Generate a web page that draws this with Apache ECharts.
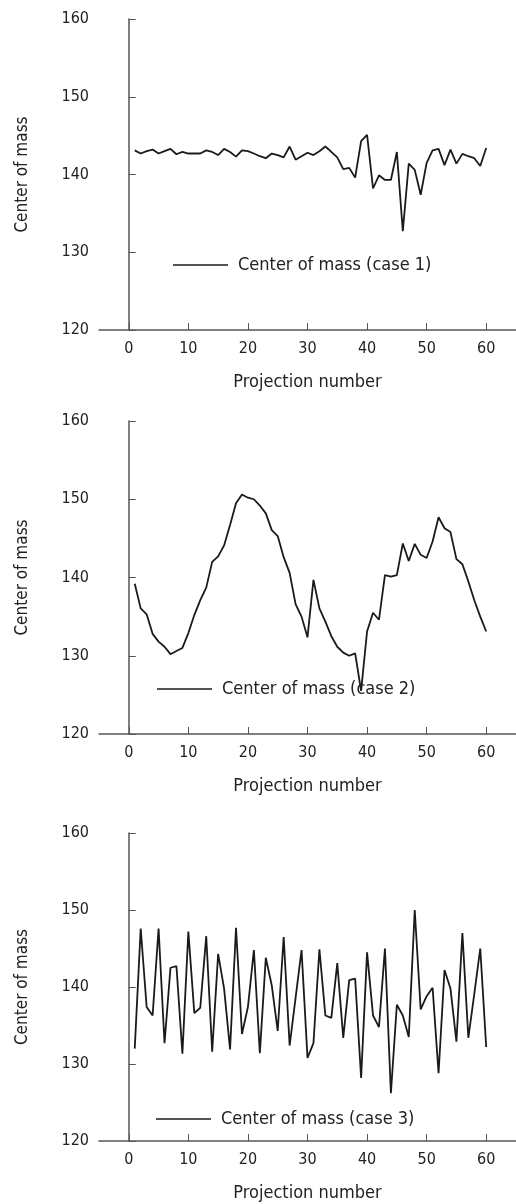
<!DOCTYPE html>
<html>
<head>
<meta charset="utf-8">
<script src="https://cdn.jsdelivr.net/npm/echarts@6/dist/echarts.min.js"></script>
<style>
  html, body { margin: 0; padding: 0; background: #fff; }
  #chart { width: 516px; height: 1204px; }
</style>
</head>
<body>
<div id="chart"></div>
<script>
// projection numbers (x)
const projection = [
  1, 2, 3, 4, 5, 6, 7, 8, 9, 10, 11, 12, 13, 14, 15, 16, 17, 18, 19, 20,
  21, 22, 23, 24, 25, 26, 27, 28, 29, 30, 31, 32, 33, 34, 35, 36, 37, 38, 39, 40,
  41, 42, 43, 44, 45, 46, 47, 48, 49, 50, 51, 52, 53, 54, 55, 56, 57, 58, 59, 60
];

// center of mass
const case1 = [
  143.1, 142.7, 143.0, 143.2, 142.7, 143.0, 143.3, 142.6, 142.9, 142.7,
  142.7, 142.7, 143.1, 142.9, 142.5, 143.3, 142.9, 142.3, 143.1, 143.0,
  142.7, 142.35, 142.1, 142.7, 142.5, 142.2, 143.6, 141.9, 142.35, 142.8,
  142.5, 143.0, 143.6, 142.9, 142.2, 140.7, 140.85, 139.6, 144.3, 145.1,
  138.2, 139.9, 139.3, 139.3, 142.9, 132.7, 141.4, 140.6, 137.4, 141.5,
  143.1, 143.3, 141.2, 143.2, 141.4, 142.65, 142.35, 142.1, 141.1, 143.4
];

const case2 = [
  139.2, 136.05, 135.3, 132.8, 131.8, 131.15, 130.2, 130.6, 131.0, 132.9,
  135.2, 137.1, 138.7, 142.0, 142.7, 144.1, 146.7, 149.5, 150.6, 150.2,
  150.0, 149.2, 148.2, 146.05, 145.3, 142.6, 140.6, 136.6, 135.0, 132.35,
  139.7, 136.05, 134.35, 132.5, 131.15, 130.4, 130.0, 130.3, 125.5, 133.1,
  135.5, 134.6, 140.3, 140.1, 140.3, 144.35, 142.1, 144.3, 142.9, 142.5,
  144.6, 147.7, 146.3, 145.8, 142.35, 141.7, 139.5, 137.1, 135.0, 133.1
];

const case3 = [
  132.0, 147.6, 137.4, 136.3, 147.6, 132.7, 142.5, 142.7, 131.35, 147.2,
  136.6, 137.3, 146.6, 131.6, 144.3, 139.8, 131.9, 147.7, 133.9, 137.4,
  144.8, 131.4, 143.8, 140.2, 134.3, 146.5, 132.4, 138.6, 144.8, 130.8,
  132.7, 144.9, 136.3, 136.0, 143.1, 133.4, 140.9, 141.1, 128.2, 144.5,
  136.3, 134.8, 145.0, 126.2, 137.7, 136.3, 133.5, 150.0, 137.1, 138.8,
  139.9, 128.8, 142.2, 139.8, 132.9, 147.0, 133.4, 139.1, 145.0, 132.2
];

const seriesNames = ['Center of mass (case 1)', 'Center of mass (case 2)', 'Center of mass (case 3)'];
const xTicks = [0, 10, 20, 30, 40, 50, 60];
const yTicks = [120, 130, 140, 150, 160];

const FONT = "'Liberation Sans Narrow', 'DejaVu Sans Condensed', sans-serif";
const TEXT = '#222';
const AXIS = '#555';

const chart = echarts.init(document.getElementById('chart'), null, { renderer: 'canvas' });

// one panel per case, stacked
const grids = [
  { left: 99, width: 417, top: 19, height: 311 },
  { left: 99, width: 417, top: 421, height: 313 },
  { left: 99, width: 417, top: 833, height: 308 }
];
const legendPos = [
  { left: 173, top: 256 },
  { left: 157, top: 680 },
  { left: 156, top: 1110 }
];
const allData = [case1, case2, case3];

const xAxes = grids.map((g, i) => ({
  type: 'value',
  gridIndex: i,
  min: -5,
  max: 65,
  name: 'Projection number',
  nameLocation: 'middle',
  nameGap: 43,
  nameTextStyle: { fontFamily: FONT, fontSize: 18, color: TEXT },
  axisLine: { lineStyle: { color: AXIS, width: 1.5 } },
  axisTick: { inside: true, length: 7, customValues: xTicks, lineStyle: { color: AXIS } },
  axisLabel: { customValues: xTicks, margin: 11, fontFamily: FONT, fontSize: 16, color: TEXT },
  splitLine: { show: false }
}));

const yAxes = grids.map((g, i) => ({
  type: 'value',
  gridIndex: i,
  min: yTicks[0],
  max: yTicks[yTicks.length - 1],
  interval: 10,
  name: 'Center of mass',
  nameLocation: 'middle',
  nameGap: 68,
  nameTextStyle: { fontFamily: FONT, fontSize: 17, color: TEXT },
  axisLine: { show: true, lineStyle: { color: AXIS, width: 1.5 } },
  axisTick: { show: true, inside: true, length: 7, lineStyle: { color: AXIS } },
  axisLabel: { margin: 10, fontFamily: FONT, fontSize: 16, color: TEXT },
  splitLine: { show: false }
}));

const series = allData.map((vals, i) => ({
  name: seriesNames[i],
  type: 'line',
  xAxisIndex: i,
  yAxisIndex: i,
  symbol: 'none',
  animation: false,
  lineStyle: { color: '#1a1a1a', width: 1.8 },
  itemStyle: { color: '#1a1a1a' },
  data: projection.map((p, k) => [p, vals[k]])
}));

const legends = legendPos.map((pos, i) => ({
  data: [seriesNames[i]],
  left: pos.left,
  top: pos.top,
  padding: 0,
  itemWidth: 55,
  itemHeight: 20,
  icon: 'path://M0,9.2 L55,9.2 L55,10.8 L0,10.8 Z',
  textStyle: { fontFamily: FONT, fontSize: 18, color: TEXT, padding: [0, 0, 0, 5] }
}));

chart.setOption({
  backgroundColor: '#fff',
  animation: false,
  grid: grids,
  xAxis: xAxes,
  yAxis: yAxes,
  legend: legends,
  series: series
});
</script>
</body>
</html>
